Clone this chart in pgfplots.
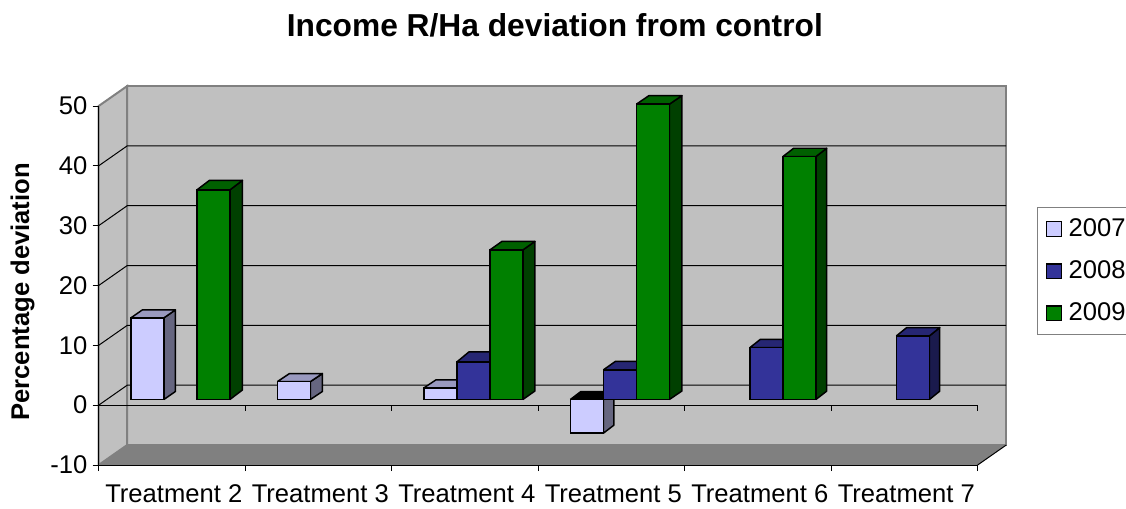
\documentclass[border=0pt]{standalone}
\usepackage{fontspec}
\setmainfont{Liberation Sans}
\usepackage{pgfplots}
\pgfplotsset{compat=1.18}
\definecolor{wall}{HTML}{C0C0C0}
\definecolor{floorc}{HTML}{808080}
\definecolor{lightf}{HTML}{CCCCFF}\definecolor{lights}{HTML}{666680}\definecolor{lightt}{HTML}{9999BF}
\definecolor{bluef}{HTML}{333399}\definecolor{blues}{HTML}{1A1A4D}\definecolor{bluet}{HTML}{262673}
\definecolor{greenf}{HTML}{008000}\definecolor{greens}{HTML}{004000}\definecolor{greent}{HTML}{006000}
% side and top faces of one bar: centre x, value, depth dx (px), depth dy (px), side, top
\newcommand{\barfaces}[6]{%
  \pgfmathsetmacro{\xr}{#1+0.11265}%
  \pgfmathsetmacro{\xl}{#1-0.11265}%
  \pgfmathsetmacro{\ddx}{#3/146.5}%
  \pgfmathsetmacro{\ddy}{#4/5.983}%
  \pgfmathsetmacro{\xrb}{\xr+\ddx}%
  \pgfmathsetmacro{\xlb}{\xl+\ddx}%
  \pgfmathsetmacro{\tv}{max(#2,0)}%
  \pgfmathsetmacro{\bv}{min(#2,0)}%
  \pgfmathsetmacro{\tb}{\tv+\ddy}%
  \pgfmathsetmacro{\bb}{\bv+\ddy}%
  \addplot[forget plot,draw=black,line width=1.1pt,line join=round,fill=#5] coordinates {(\xr,\bv) (\xrb,\bb) (\xrb,\tb) (\xr,\tv) (\xr,\bv)};
  \addplot[forget plot,draw=black,line width=1.1pt,line join=round,fill=#6] coordinates {(\xl,\tv) (\xlb,\tb) (\xrb,\tb) (\xr,\tv) (\xl,\tv)};
}
\begin{document}
\fontsize{19.2}{23}\selectfont
\begin{tikzpicture}
\path[use as bounding box] (0,0) rectangle (844.5pt,381pt);
% frame axis: walls, floor, grid, ticks, labels
\begin{axis}[
  at={(74pt,32.25pt)},anchor=south west,scale only axis,
  width=659.25pt,height=269.25pt,clip=false,
  xmin=0,xmax=6,ymin=-10,ymax=50,
  axis lines=left,axis on top,
  axis line style={-,black,line width=.75pt},
  tick style={black,line width=.75pt},
  tick align=outside,
  ytick={-10,0,10,20,30,40,50},
  yticklabels={-10,0,10,20,30,40,50},
  xtick={0.5,1.5,2.5,3.5,4.5,5.5},
  xticklabels={Treatment 2,Treatment 3,Treatment 4,Treatment 5,Treatment 6,Treatment 7},
  minor xtick={0,1,2,3,4,5,6},
  major x tick style={draw=none},
  major tick length=4.5pt,minor tick length=4.5pt,
  yticklabel style={inner sep=0pt,outer sep=0pt,xshift=-4pt},
  xticklabel style={inner sep=0pt,outer sep=0pt,yshift=-10.2pt,xshift=1.4pt},
  title={\fontsize{23.8}{28}\selectfont\bfseries Income R/Ha deviation from control},
  title style={at={(axis description cs:0.519,1.172)},anchor=base,inner sep=0pt},
  ylabel={\bfseries Percentage deviation},
  ylabel style={at={(axis description cs:-0.0790,0.482)},anchor=base,inner sep=0pt},
]
\addplot[draw=floorc,line width=1.5pt,fill=wall] coordinates {(0.195,-6.66) (6.195,-6.66) (6.195,53.34) (0.195,53.34) (0.195,-6.66)};
\addplot[draw=floorc,line width=1.5pt,fill=wall] coordinates {(0,-10) (0.195,-6.66) (0.195,53.34) (0,50) (0,-10)};
\addplot[draw=none,fill=floorc] coordinates {(0,-10) (6,-10) (6.195,-6.66) (0.195,-6.66) (0,-10)};
% back gridlines and side-wall diagonals
\addplot[black,line width=.75pt] coordinates {(0,0) (0.195,3.34) (6.195,3.34)};
\addplot[black,line width=.75pt] coordinates {(0,10) (0.195,13.34) (6.195,13.34)};
\addplot[black,line width=.75pt] coordinates {(0,20) (0.195,23.34) (6.195,23.34)};
\addplot[black,line width=.75pt] coordinates {(0,30) (0.195,33.34) (6.195,33.34)};
\addplot[black,line width=.75pt] coordinates {(0,40) (0.195,43.34) (6.195,43.34)};
% floor edges
\addplot[black,line width=.75pt] coordinates {(6,-10) (6.195,-6.66)};
% zero line with its ticks
\addplot[black,line width=.75pt] coordinates {(0,0) (6,0) (6,-1)};
\addplot[black,line width=.75pt] coordinates {(1,0) (1,-1)};
\addplot[black,line width=.75pt] coordinates {(2,0) (2,-1)};
\addplot[black,line width=.75pt] coordinates {(3,0) (3,-1)};
\addplot[black,line width=.75pt] coordinates {(4,0) (4,-1)};
\addplot[black,line width=.75pt] coordinates {(5,0) (5,-1)};
\end{axis}
% bar axis: same box, baseline lying part-way into the floor depth
\begin{axis}[
  at={(74pt,32.25pt)},anchor=south west,scale only axis,
  width=659.25pt,height=269.25pt,clip=false,hide axis,
  xmin=-0.058,xmax=5.942,ymin=-10.95,ymax=49.05,
  legend style={at={(axis description cs:1.0672,0.7186)},anchor=north west,
    draw=floorc,line width=.75pt,fill=white,inner xsep=6.5pt,inner ysep=8pt,
    row sep=15.25pt,column sep=5pt,
    nodes={inner sep=0pt,anchor=west},font=\fontsize{19.2}{23}\selectfont},
  legend cell align=left,
]
\pgfplotsset{mybar/.style={ybar,bar width=0.2253,bar shift=0pt,draw=black,line width=1.1pt,
  legend image code/.code={\draw[##1,line width=1.1pt] (0pt,-5.5pt) rectangle (11pt,5.5pt);}}}
% 2007
\barfaces{0.2747}{13.64}{11.5}{8}{lights}{lightt}
\barfaces{1.2747}{2.99}{12}{8}{lights}{lightt}
\barfaces{2.2747}{1.94}{12}{8}{lights}{lightt}
\barfaces{3.2747}{-5.63}{10.5}{8}{lights}{black}
\addplot[mybar,fill=lightf] coordinates {(0.2747,13.64) (1.2747,2.99) (2.2747,1.94) (3.2747,-5.63)};
\addlegendentry{2007}
% 2008
\barfaces{2.5}{6.28}{12}{10}{blues}{bluet}
\barfaces{3.5}{4.95}{12}{8.5}{blues}{bluet}
\barfaces{4.5}{8.67}{10.5}{8.3}{blues}{bluet}
\barfaces{5.5}{10.63}{10.3}{8.3}{blues}{bluet}
\addplot[mybar,fill=bluef] coordinates {(2.5,6.28) (3.5,4.95) (4.5,8.67) (5.5,10.63)};
\addlegendentry{2008}
% 2009
\barfaces{0.7253}{35.03}{12.5}{9.5}{greens}{greent}
\barfaces{2.7253}{25.0}{12}{8.5}{greens}{greent}
\barfaces{3.7253}{49.36}{12.5}{8.5}{greens}{greent}
\barfaces{4.7253}{40.6}{10.7}{8.3}{greens}{greent}
\addplot[mybar,fill=greenf] coordinates {(0.7253,35.03) (2.7253,25.0) (3.7253,49.36) (4.7253,40.6)};
\addlegendentry{2009}
\end{axis}
\end{tikzpicture}
\end{document}
